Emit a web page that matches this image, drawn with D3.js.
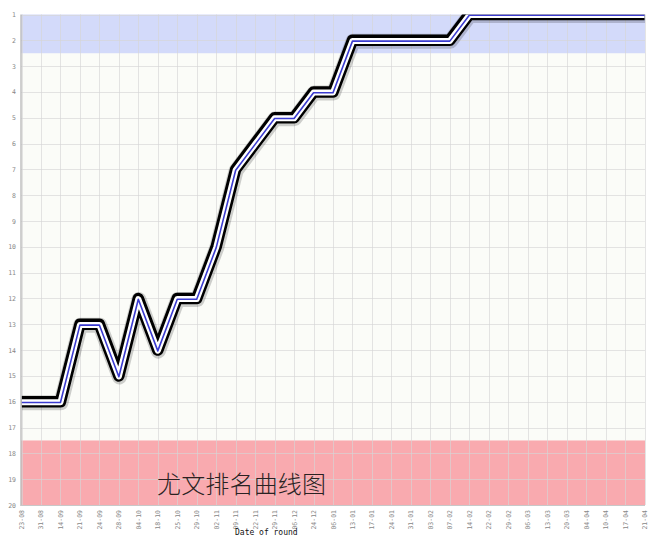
<!DOCTYPE html>
<html>
<head>
<meta charset="utf-8">
<script src="https://cdn.jsdelivr.net/npm/d3@7"></script>
<style>
  html, body { margin: 0; padding: 0; background: #ffffff; }
  svg { display: block; }
</style>
</head>
<body>
<svg id="chart" width="649" height="536"></svg>
<script>
// ---- data ----
const rounds = ["23-08","31-08","14-09","21-09","24-09","28-09","04-10","18-10","25-10","29-10","02-11","09-11","22-11","29-11","06-12","24-12","06-01","13-01","17-01","24-01","31-01","03-02","07-02","14-02","22-02","29-02","06-03","13-03","20-03","04-04","10-04","17-04","21-04"];
const ranks = [16,16,16,13,13,15,12,14,12,12,10,7,6,5,5,4,4,2,2,2,2,2,2,1,1,1,1,1,1,1,1,1,1];
const rankTicks = [1,2,3,4,5,6,7,8,9,10,11,12,13,14,15,16,17,18,19,20];
const topZone = [1, 2.5];
const bottomZone = [17.5, 20];
const chartTitle = "尤文排名曲线图";
const xAxisTitle = "Date of round";

(function () {
// ---- layout ----
const pL = 21.5, pR = 645, pT = 14.5, pB = 505;

const svg = d3.select("#chart");

const x = d3.scalePoint().domain(rounds).range([pL, pR - 0.5]);
const y = d3.scaleLinear().domain([1, 20]).range([pT, pB]);

// plot background
svg.append("rect")
  .attr("x", pL).attr("y", pT)
  .attr("width", pR - pL).attr("height", pB - pT)
  .attr("fill", "#fbfcf8");

// zones
svg.append("rect")
  .attr("x", pL).attr("y", y(topZone[0]))
  .attr("width", pR - pL).attr("height", y(topZone[1]) - y(topZone[0]))
  .attr("fill", "#d3dafa");
svg.append("rect")
  .attr("x", pL).attr("y", y(bottomZone[0]))
  .attr("width", pR - pL).attr("height", y(bottomZone[1]) - y(bottomZone[0]))
  .attr("fill", "#f9aaaf");

// grid
const grid = svg.append("g").attr("stroke", "#d6d6d6").attr("stroke-opacity", 0.65).attr("stroke-width", 1);
grid.selectAll("line.h").data(rankTicks).join("line")
  .attr("class", "h")
  .attr("x1", pL).attr("x2", pR)
  .attr("y1", d => Math.round(y(d)) + 0.5).attr("y2", d => Math.round(y(d)) + 0.5);
grid.selectAll("line.v").data(rounds).join("line")
  .attr("class", "v")
  .attr("y1", pT).attr("y2", pB)
  .attr("x1", d => Math.round(x(d)) + 0.5).attr("x2", d => Math.round(x(d)) + 0.5);

// chart title inside plot
svg.append("text")
  .attr("x", 157).attr("y", 493)
  .attr("font-family", "'Noto Sans CJK SC', sans-serif")
  .attr("font-weight", 300)
  .attr("font-size", 24)
  .attr("fill", "#2a2222")
  .attr("textLength", 169)
  .text(chartTitle);

// line
svg.append("defs").append("clipPath").attr("id", "plotclip")
  .append("rect").attr("x", pL).attr("y", pT)
  .attr("width", pR - pL).attr("height", pB - pT);

const data = rounds.map((r, i) => ({ r, v: ranks[i] }));
const line = d3.line().x(d => x(d.r)).y(d => y(d.v));
const lg = svg.append("g").attr("clip-path", "url(#plotclip)");
lg.append("path").datum(data).attr("d", line)
  .attr("fill", "none").attr("stroke", "#000").attr("stroke-opacity", 0.18)
  .attr("stroke-width", 15).attr("stroke-linejoin", "round").attr("transform", "translate(0.5,1)");
lg.append("path").datum(data).attr("d", line)
  .attr("fill", "none").attr("stroke", "#000")
  .attr("stroke-width", 11.5).attr("stroke-linejoin", "round");
lg.append("path").datum(data).attr("d", line)
  .attr("fill", "none").attr("stroke", "#ffffff")
  .attr("stroke-width", 6).attr("stroke-linejoin", "round").attr("transform", "translate(0,0.6)");
lg.append("path").datum(data).attr("d", line)
  .attr("fill", "none").attr("stroke", "#3b3bd0")
  .attr("stroke-width", 1.6).attr("stroke-linejoin", "round").attr("transform", "translate(0,0.8)");

// axes lines
svg.append("line").attr("x1", pL - 0.5).attr("x2", pL - 0.5).attr("y1", pT).attr("y2", pB + 1)
  .attr("stroke", "#a0a0a0");
svg.append("line").attr("x1", pL - 0.5).attr("x2", pR).attr("y1", pB + 0.5).attr("y2", pB + 0.5)
  .attr("stroke", "#c8c8c8");

// y tick labels
svg.append("g").selectAll("text").data(rankTicks).join("text")
  .attr("x", 16).attr("y", d => y(d) + 2.5)
  .attr("text-anchor", "end")
  .attr("font-family", "'DejaVu Sans Mono', monospace")
  .attr("font-size", 6.5)
  .attr("fill", "#888")
  .text(d => d);

// x tick labels (rotated)
svg.append("g").selectAll("text").data(rounds).join("text")
  .attr("transform", d => `translate(${x(d) + 2.5},${510}) rotate(-90)`)
  .attr("text-anchor", "end")
  .attr("font-family", "'DejaVu Sans Mono', monospace")
  .attr("font-size", 6.5)
  .attr("fill", "#888")
  .text(d => d);

// x axis title
svg.append("text")
  .attr("x", 235).attr("y", 535)
  .attr("font-family", "'DejaVu Sans Mono', monospace")
  .attr("font-size", 8)
  .attr("fill", "#111")
  .text(xAxisTitle);
})();
</script>
</body>
</html>
